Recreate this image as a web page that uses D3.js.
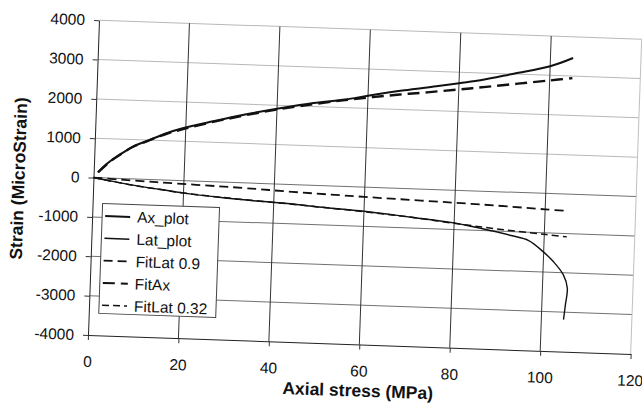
<!DOCTYPE html>
<html>
<head>
<meta charset="utf-8">
<script src="https://cdn.jsdelivr.net/npm/d3@7"></script>
<style>
  body { margin: 0; background: #fff; }
  svg { display: block; font-family: "Liberation Sans", Arial, sans-serif; }
</style>
</head>
<body>
<div id="chart"></div>
<script>
// values: [axial stress (MPa), strain (microstrain)]
const stressTicks = [0, 20, 40, 60, 80, 100, 120];
const strainTicks = [-4000, -3000, -2000, -1000, 0, 1000, 2000, 3000, 4000];

const axPlot = [[0.9, 137], [3.4, 417], [5.5, 595], [8.4, 817], [12, 1000], [15.8, 1190],
  [19.3, 1330], [26, 1535], [33, 1735], [40, 1910], [48, 2090], [55, 2205], [60, 2320],
  [68, 2490], [75, 2620], [80, 2720], [85, 2820], [92, 3010], [100, 3230], [105, 3460]];
const latPlot = [[0, 0], [3, -55], [6.6, -120], [14, -230], [21.4, -327], [28.8, -397],
  [36.3, -450], [43.7, -490], [50, -545], [60, -615], [70, -720], [80, -831], [84, -905],
  [88, -990], [92.7, -1100], [96.6, -1212], [99.8, -1474], [102.2, -1723], [104.5, -2048],
  [105.5, -2385], [105.2, -2813], [104.9, -3190]];
const fitLat09 = [[0, 0], [14, -60], [33, -130], [44, -185], [60, -250], [86, -340],
  [100, -405], [105, -428]];
const fitAx = [[1, 140], [3.4, 410], [5.5, 590], [8.4, 810], [12, 995], [16, 1185],
  [20, 1330], [26, 1520], [33, 1715], [40, 1890], [48, 2060], [55, 2190], [61, 2290],
  [67, 2380], [73, 2460], [80, 2560], [86, 2650], [93, 2760], [100, 2870], [105, 2950]];
const fitLat032 = [[0, 0], [5, -95], [10, -180], [15, -245], [20, -310], [30, -400],
  [40, -470], [50, -545], [60, -625], [70, -720], [80, -840], [90, -950], [100, -1040],
  [105, -1085]];

const seriesNames = ["Ax_plot", "Lat_plot", "FitLat 0.9", "FitAx", "FitLat 0.32"];
const seriesData = [axPlot, latPlot, fitLat09, fitAx, fitLat032];
const seriesStyle = [
  {w: 2, dash: null},
  {w: 1.4, dash: null},
  {w: 1.8, dash: "9,5"},
  {w: 2.4, dash: "12,6"},
  {w: 1.5, dash: "7,4"}
];

const margin = {top: 20, left: 88},
    width = 543,
    height = 315,
    tilt = 2; // the scan is turned slightly clockwise

const svg = d3.select('#chart').append('svg')
    .attr('width', 642)
    .attr('height', 411);

const g = svg.append('g')
    .attr('transform', `rotate(${tilt},${margin.left},${margin.top + height}) translate(${margin.left},${margin.top})`);

const x = d3.scaleLinear().domain([0, 120]).range([0, width]);
const y = d3.scaleLinear().domain([-4000, 4000]).range([height, 0]);

// grid lines
g.append('g').selectAll('line')
    .data(strainTicks.slice(1))
    .join('line')
    .attr('x1', 0).attr('x2', width)
    .attr('y1', d => y(d)).attr('y2', d => y(d))
    .attr('stroke', d => d > 0 ? '#b8b8b8' : '#707070')
    .attr('stroke-width', 1);

g.append('g').selectAll('line')
    .data(stressTicks.slice(1))
    .join('line')
    .attr('x1', d => x(d)).attr('x2', d => x(d))
    .attr('y1', 0).attr('y2', height)
    .attr('stroke', d => d === 120 ? '#c0c0c0' : '#333')
    .attr('stroke-width', 1);

// axes
const yAxis = g.append('g')
    .call(d3.axisLeft(y).tickValues(strainTicks).tickSize(5).tickSizeOuter(0).tickPadding(9).tickFormat(d => String(d)));
const xAxis = g.append('g')
    .attr('transform', `translate(0,${height})`)
    .call(d3.axisBottom(x).tickValues(stressTicks).tickSize(5).tickSizeOuter(0).tickPadding(16).tickFormat(d => String(d)));

[xAxis, yAxis].forEach(a => {
    a.select('.domain').attr('stroke', '#222');
    a.selectAll('.tick line').attr('stroke', '#333');
    a.selectAll('text').attr('font-size', 15.5).attr('fill', '#111')
        .style('font-family', '"Liberation Sans", Arial, sans-serif');
});

// series
const line = d3.line()
    .x(d => x(d[0]))
    .y(d => y(d[1]))
    .curve(d3.curveCatmullRom);

const drawOrder = [4, 2, 3, 1, 0];
drawOrder.forEach(i => {
    g.append('path')
        .datum(seriesData[i])
        .attr('d', line)
        .attr('fill', 'none')
        .attr('stroke', '#111')
        .attr('stroke-width', seriesStyle[i].w)
        .attr('stroke-dasharray', seriesStyle[i].dash);
});

// titles
g.append('text')
    .attr('x', width / 2)
    .attr('y', height + 46)
    .attr('dy', '0.35em')
    .attr('text-anchor', 'middle')
    .attr('font-size', 17.5)
    .attr('font-weight', 'bold')
    .attr('fill', '#111')
    .text('Axial stress (MPa)');

g.append('text')
    .attr('transform', `translate(-75,161) rotate(-90)`)
    .attr('dy', '0.35em')
    .attr('text-anchor', 'middle')
    .attr('font-size', 17.5)
    .attr('font-weight', 'bold')
    .attr('fill', '#111')
    .text('Strain (MicroStrain)');

// legend
const legend = g.append('g').attr('transform', 'translate(10,183)');
legend.append('rect')
    .attr('width', 117)
    .attr('height', 110)
    .attr('fill', '#fff')
    .attr('stroke', '#444');

const rows = legend.selectAll('g.row')
    .data(seriesNames)
    .join('g')
    .attr('class', 'row')
    .attr('transform', (d, i) => `translate(0,${12.5 + i * 22.3})`);

rows.append('line')
    .attr('x1', 3).attr('x2', 28)
    .attr('stroke', '#111')
    .attr('stroke-width', (d, i) => Math.min(seriesStyle[i].w, 2))
    .attr('stroke-dasharray', (d, i) => seriesStyle[i].dash);

rows.append('text')
    .attr('x', 35)
    .attr('dy', '0.35em')
    .attr('font-size', 15.5)
    .attr('fill', '#111')
    .text(d => d);
</script>
</body>
</html>
